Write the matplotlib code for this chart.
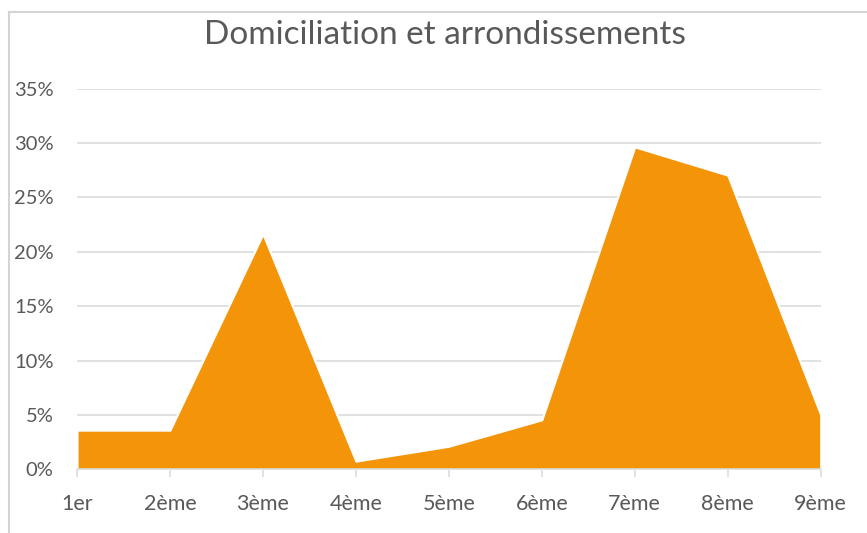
import matplotlib
matplotlib.use("Agg")
import matplotlib.pyplot as plt
from matplotlib.lines import Line2D
from matplotlib.ticker import PercentFormatter

# data
arrondissements = ["1er", "2ème", "3ème", "4ème", "5ème", "6ème", "7ème", "8ème", "9ème"]
parts = [0.0360, 0.0360, 0.2165, 0.0075, 0.0212, 0.0455, 0.2965, 0.2705, 0.0502]

ORANGE = "#F39409"; GRID = "#D9D9D9"; TEXT = "#595959"

plt.rcParams.update({"font.family": ["Lato", "DejaVu Sans"]})

W, H = 867, 533
fig = plt.figure(figsize=(W / 100, H / 100), dpi=100)
ax = fig.add_axes([77 / W, (H - 469.3) / H, (820.7 - 77) / W, (469.3 - 88.7) / H])

x = list(range(len(arrondissements)))
ax.fill_between(x, parts, 0, color=ORANGE, edgecolor="white", linewidth=1.5, zorder=3)

ax.set_xlim(0, len(arrondissements) - 1)
ax.set_ylim(0, 0.35)
ax.set_yticks([i * 0.05 for i in range(8)])
ax.yaxis.set_major_formatter(PercentFormatter(1.0, decimals=0))
ax.set_xticks(x)
ax.set_xticklabels(arrondissements)

ax.grid(axis="y", color=GRID, lw=1.1, zorder=0)
for s in ("top", "right", "left"):
    ax.spines[s].set_visible(False)
ax.spines["bottom"].set_color(GRID)
ax.spines["bottom"].set_linewidth(1.1)
ax.spines["bottom"].set_zorder(4)
ax.tick_params(axis="x", colors=GRID, length=6, width=1.1, pad=12, labelcolor=TEXT, labelsize=15.5)
ax.tick_params(axis="y", length=0, pad=17, labelcolor=TEXT, labelsize=14.5)

fig.text(445 / W, 1 - 44 / H, "Domiciliation et arrondissements", ha="center", va="baseline",
         fontsize=24, color=TEXT)

# chart-area border (cropped on the right and bottom)
bx, by = 9 / W, 1 - 12 / H
fig.add_artist(Line2D([bx, bx], [0, by], transform=fig.transFigure, color="#D4D4D4", lw=1.5))
fig.add_artist(Line2D([bx, 1], [by, by], transform=fig.transFigure, color="#D4D4D4", lw=1.5))

fig.savefig("out.png", dpi=100)
